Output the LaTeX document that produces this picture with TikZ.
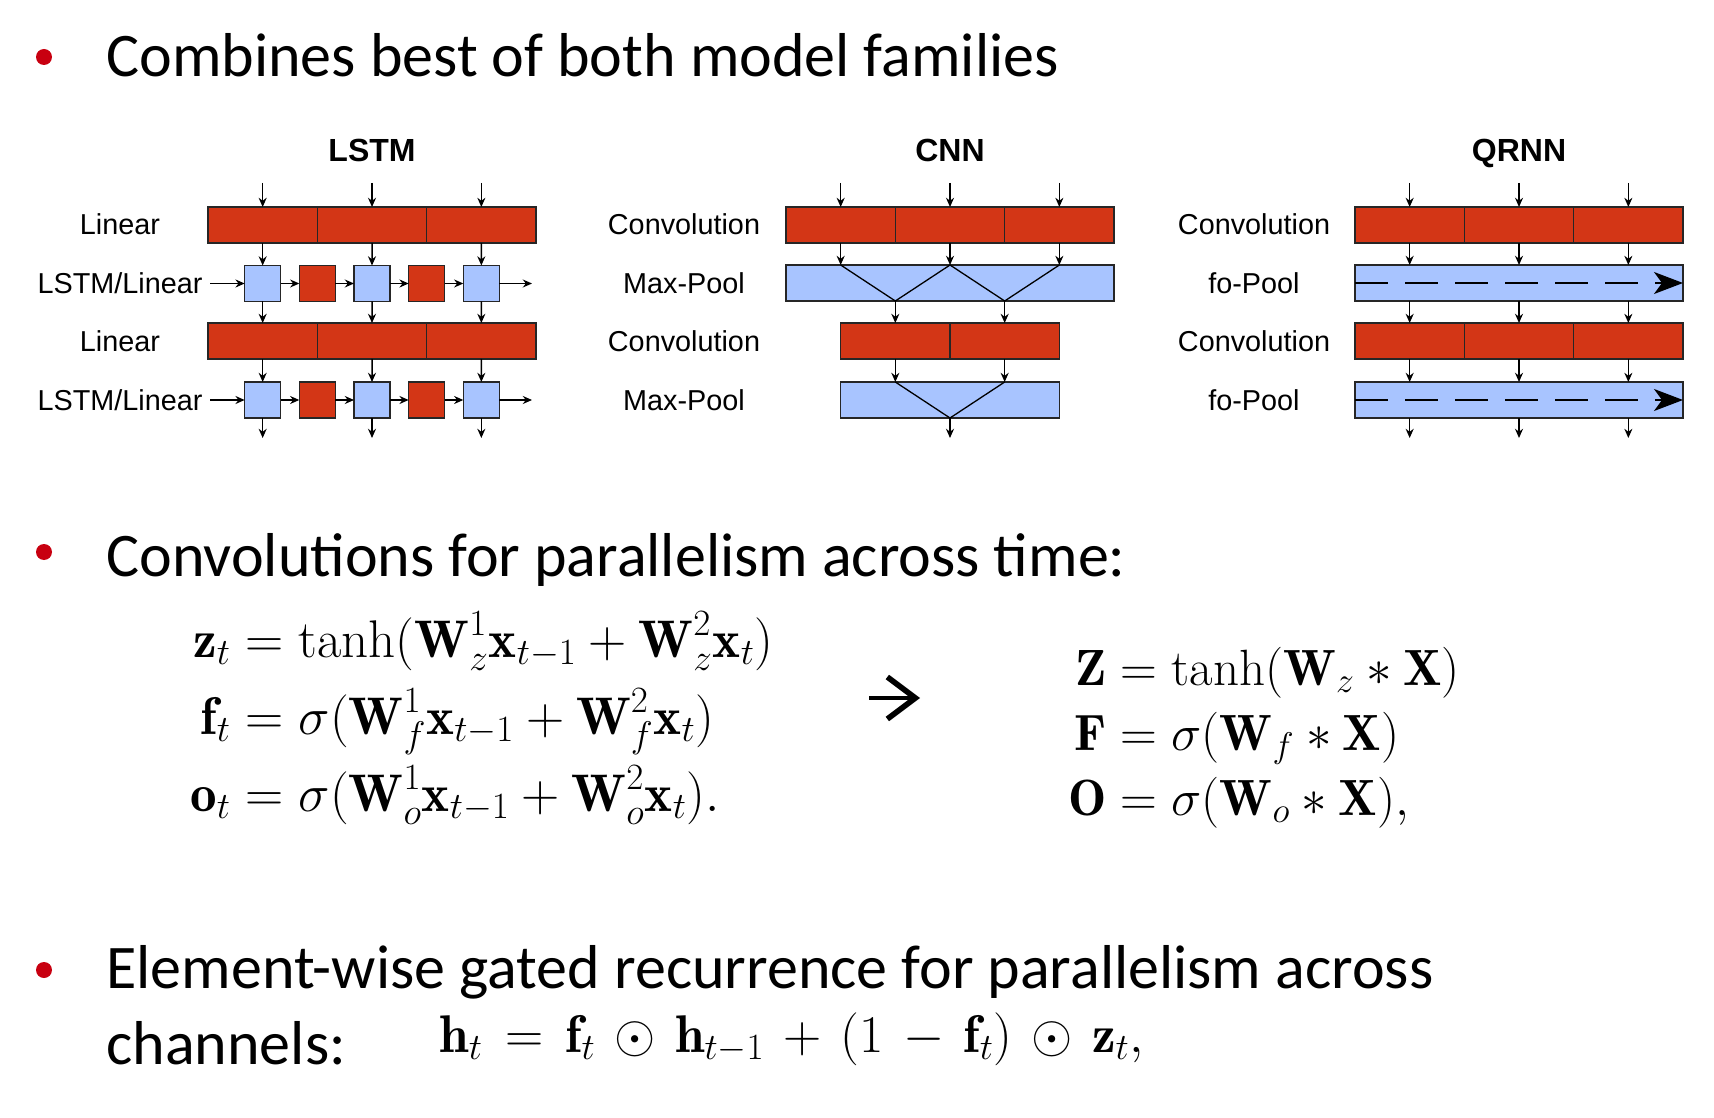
\RequirePackage{fix-cm}
\documentclass[tikz,border=0pt]{standalone}
\usepackage{amsmath,amssymb}
\usepackage{fontspec}
\newfontfamily\slidefont{Carlito}
\newfontfamily\labelfont{Liberation Sans}
\usepackage{tikz}
\usetikzlibrary{arrows.meta,positioning,calc}
\definecolor{cellred}{RGB}{211,54,22}
\definecolor{cellblue}{RGB}{168,196,255}
\definecolor{bulletred}{RGB}{200,0,16}

\begin{document}
\begin{tikzpicture}[
    x=0.5pt, y=-0.5pt,
    cell/.style={draw=black!85, line width=0.7pt, minimum width=54.67pt, minimum height=18pt, inner sep=0pt, outer sep=0pt},
    redcell/.style={cell, fill=cellred},
    bluebar/.style={cell, fill=cellblue},
    redsq/.style={cell, fill=cellred, minimum width=18pt},
    bluesq/.style={cell, fill=cellblue, minimum width=18pt},
    arrow/.style={-{Stealth[length=4.6pt, width=4pt]}, line width=0.75pt, draw=black},
    vline/.style={line width=0.65pt, draw=black},
    dasharrow/.style={line width=0.85pt, dash pattern=on 16.5pt off 8.5pt, -{Stealth[length=14.5pt, width=11pt, inset=4pt]}},
    bigarrow/.style={line width=2.4pt, -{Straight Barb[length=14pt, width=21pt, line width=2.8pt]}},
    lbl/.style={font=\labelfont\fontsize{14.4}{16}\selectfont, anchor=base, inner sep=0pt},
    title/.style={font=\labelfont\bfseries\fontsize{16}{18}\selectfont, anchor=base, inner sep=0pt},
    bullet/.style={circle, fill=bulletred, minimum size=8pt, inner sep=0pt},
    slide/.style={font=\slidefont\fontsize{31}{37}\selectfont, anchor=base west, inner sep=0pt},
    eq/.style={anchor=base west, inner sep=0pt}
]
    \useasboundingbox (0,0) rectangle (1714,1118);

    % Bullet points
    \node[bullet] (b1) at (44,57) {};
    \node[slide] (t1) at (106,77) {Combines best of both model families};
    \node[bullet] (b2) at (44,552) {};
    \node[slide] (t2) at (106,576) {Convolutions for parallelism across time:};
    \node[bullet] (b3) at (44,970) {};
    \node[slide] (t3) at (106,988) {Element-wise gated recurrence for parallelism across};
    \node[slide] (t4) at (106,1064) {channels:};

    % LSTM
    \node[title] (tlstm) at (372,162) {LSTM};
    \node[lbl] at (120,235) {Linear};
    \node[lbl] at (120,293.5) {LSTM/Linear};
    \node[lbl] at (120,351) {Linear};
    \node[lbl] at (120,410) {LSTM/Linear};
    \foreach \r/\y in {1/225, 3/341} {
        \node[redcell] (lstm\r-a) at (262.67,\y) {};
        \node[redcell, right=0pt of lstm\r-a] (lstm\r-b) {};
        \node[redcell, right=0pt of lstm\r-b] (lstm\r-c) {};
    }
    \foreach \r/\y in {2/283.5, 4/400} {
        \node[bluesq] (s\r-1) at (262.67,\y) {};
        \node[redsq] (s\r-2) at (317.33,\y) {};
        \node[bluesq] (s\r-3) at (372,\y) {};
        \node[redsq] (s\r-4) at (426.67,\y) {};
        \node[bluesq] (s\r-5) at (481.33,\y) {};
        \coordinate (in\r) at (210,\y);
        \coordinate (out\r) at (532,\y);
        \draw[arrow] (in\r) -- (s\r-1);
        \draw[arrow] (s\r-1) -- (s\r-2);
        \draw[arrow] (s\r-2) -- (s\r-3);
        \draw[arrow] (s\r-3) -- (s\r-4);
        \draw[arrow] (s\r-4) -- (s\r-5);
        \draw[arrow] (s\r-5) -- (out\r);
    }
    \foreach \c/\s in {a/1, b/3, c/5} {
        \draw[arrow] ($(lstm1-\c.north)+(0,-24)$) -- (lstm1-\c.north);
        \draw[arrow] (lstm1-\c) -- (s2-\s);
        \draw[arrow] (s2-\s) -- (lstm3-\c);
        \draw[arrow] (lstm3-\c) -- (s4-\s);
        \draw[arrow] (s4-\s.south) -- ++(0,20);
    }

    % CNN
    \node[title] (tcnn) at (950,162) {CNN};
    \node[lbl] at (684,235) {Convolution};
    \node[lbl] at (684,293.5) {Max-Pool};
    \node[lbl] at (684,351) {Convolution};
    \node[lbl] at (684,410) {Max-Pool};
    \node[redcell] (cnn1-a) at (840.67,225) {};
    \node[redcell, right=0pt of cnn1-a] (cnn1-b) {};
    \node[redcell, right=0pt of cnn1-b] (cnn1-c) {};
    \node[bluebar, minimum width=164pt] (mp1) at (950,283) {};
    \node[redcell] (cnn3-a) at (895.33,341) {};
    \node[redcell, right=0pt of cnn3-a] (cnn3-b) {};
    \node[bluebar, minimum width=109.33pt] (mp2) at (950,400) {};
    \foreach \c in {a,b,c} {
        \draw[arrow] ($(cnn1-\c.north)+(0,-24)$) -- (cnn1-\c.north);
        \draw[arrow] (cnn1-\c) -- (cnn1-\c |- mp1.north);
    }
    \draw[vline] (cnn1-a |- mp1.north) -- (cnn1-a.east |- mp1.south) -- (cnn1-b |- mp1.north)
        -- (cnn1-b.east |- mp1.south) -- (cnn1-c |- mp1.north);
    \foreach \c in {a,b} {
        \draw[arrow] (cnn3-\c |- mp1.south) -- (cnn3-\c);
        \draw[arrow] (cnn3-\c) -- (cnn3-\c |- mp2.north);
    }
    \draw[vline] (cnn3-a |- mp2.north) -- (cnn3-a.east |- mp2.south) -- (cnn3-b |- mp2.north);
    \draw[arrow] (cnn3-a.east |- mp2.south) -- ++(0,20);

    % QRNN
    \node[title] (tqrnn) at (1519,162) {QRNN};
    \node[lbl] at (1254,235) {Convolution};
    \node[lbl] at (1254,293.5) {fo-Pool};
    \node[lbl] at (1254,351) {Convolution};
    \node[lbl] at (1254,410) {fo-Pool};
    \foreach \r/\y in {1/225, 3/341} {
        \node[redcell] (q\r-a) at (1409.67,\y) {};
        \node[redcell, right=0pt of q\r-a] (q\r-b) {};
        \node[redcell, right=0pt of q\r-b] (q\r-c) {};
    }
    \node[bluebar, minimum width=164pt] (fp1) at (1519,283) {};
    \node[bluebar, minimum width=164pt] (fp2) at (1519,400) {};
    \draw[dasharrow] (fp1.west) -- (fp1.east);
    \draw[dasharrow] (fp2.west) -- (fp2.east);
    \foreach \c in {a,b,c} {
        \draw[arrow] ($(q1-\c.north)+(0,-24)$) -- (q1-\c.north);
        \draw[arrow] (q1-\c) -- (q1-\c |- fp1.north);
        \draw[arrow] (q1-\c |- fp1.south) -- (q3-\c);
        \draw[arrow] (q3-\c) -- (q3-\c |- fp2.north);
        \draw[arrow] (q3-\c |- fp2.south) -- ++(0,20);
    }

    % Equations
    \node[eq, font=\fontsize{26.5}{36.5}\selectfont] (eqgates) at (190,657) {\setlength{\jot}{2pt}$\begin{aligned}[t]
        \mathbf{z}_t &= \tanh(\mathbf{W}_z^1\mathbf{x}_{t-1} + \mathbf{W}_z^2\mathbf{x}_t)\\
        \mathbf{f}_t &= \sigma(\mathbf{W}_f^1\mathbf{x}_{t-1} + \mathbf{W}_f^2\mathbf{x}_t)\\
        \mathbf{o}_t &= \sigma(\mathbf{W}_o^1\mathbf{x}_{t-1} + \mathbf{W}_o^2\mathbf{x}_t).
    \end{aligned}$};
    \coordinate (arrL) at (869,698);
    \coordinate (arrR) at (920,698);
    \draw[bigarrow] (arrL) -- (arrR);
    \node[eq, font=\fontsize{25.5}{32.5}\selectfont] (eqconv) at (1068,685) {\setlength{\jot}{0pt}$\begin{aligned}[t]
        \mathbf{Z} &= \tanh(\mathbf{W}_z * \mathbf{X})\\
        \mathbf{F} &= \sigma(\mathbf{W}_f * \mathbf{X})\\
        \mathbf{O} &= \sigma(\mathbf{W}_o * \mathbf{X}),
    \end{aligned}$};
    \node[eq, font=\fontsize{26.5}{32}\selectfont] (eqpool) at (439,1052) {\thickmuskip=7.5mu\medmuskip=6.5mu$\mathbf{h}_t = \mathbf{f}_t \odot \mathbf{h}_{t-1} + (1 - \mathbf{f}_t) \odot \mathbf{z}_t,$};

\end{tikzpicture}
\end{document}
